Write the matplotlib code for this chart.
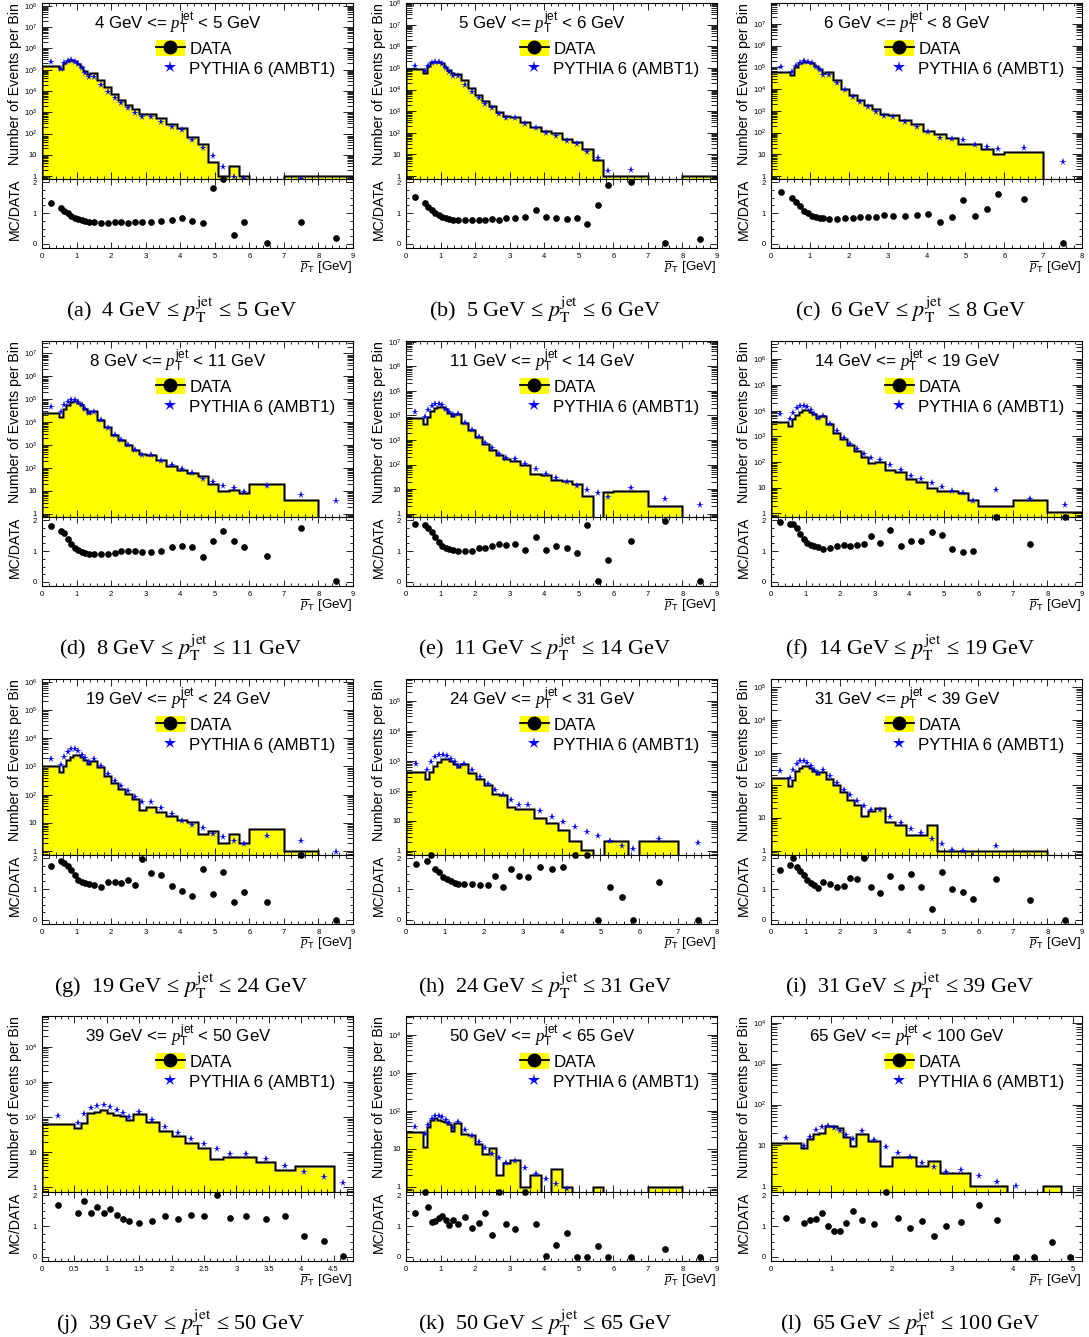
import numpy as np
import matplotlib
matplotlib.use('Agg')
import matplotlib.pyplot as plt
from matplotlib.lines import Line2D
from matplotlib.patches import Patch
from matplotlib.ticker import LogLocator, FuncFormatter, MultipleLocator, NullFormatter

plt.rcParams['font.family'] = ['Liberation Sans', 'DejaVu Sans']
plt.rcParams['mathtext.fontset'] = 'custom'
plt.rcParams['mathtext.rm'] = 'Liberation Sans'
plt.rcParams['mathtext.it'] = 'Liberation Serif:italic'
plt.rcParams['mathtext.bf'] = 'Liberation Sans:bold'

# common bin edges of mean track pT [GeV]
edges = [0, 0.5, 0.6, 0.7, 0.8, 0.9, 1.0, 1.1, 1.2, 1.3, 1.4, 1.6, 1.8, 2.0, 2.2, 2.4,
         2.6, 2.8, 3.0, 3.3, 3.6, 3.9, 4.2, 4.5, 4.8, 5.1, 5.4, 5.7, 6.0, 7.0, 8.0, 9.0]

# jet pT bins (panel titles)
jet_lo = [4, 5, 6, 8, 11, 14, 19, 24, 31, 39, 50, 65]
jet_hi = [5, 6, 8, 11, 14, 19, 24, 31, 39, 50, 65, 100]
letters = ['a', 'b', 'c', 'd', 'e', 'f', 'g', 'h', 'i', 'j', 'k', 'l']
x_max = [9, 9, 8, 9, 9, 9, 9, 8, 9, 4.8, 9, 5.15]
y_max = [1.35e8, 1e8, 9e7, 3.5e7, 1.07e7, 5.1e6, 1.24e6, 5.3e5, 1.8e5, 7.5e4, 3.1e4, 1.45e4]

data_a = [1.55e5, 1.05e5, 2.0e5, 2.6e5, 2.9e5, 2.6e5, 1.85e5, 1.3e5, 9.0e4, 6.3e4, 6.7e4, 3.2e4, 1.5e4,
          6.9e3, 3.7e3, 2.1e3, 1.35e3, 870, 810, 510, 295, 183, 69, 31, 4.6, 1, 3, 1, 0, 1, 1]
mc_a = [2.2e5, 1.07e5, 2.0e5, 2.6e5, 2.9e5, 2.4e5, 1.8e5, 1.15e5, 7.2e4, 4.5e4, 4.5e4, 1.9e4, 9.1e3,
        4.9e3, 2.6e3, 1.5e3, 940, 600, 570, 350, 205, 143, 48, 21, 8.8, 2.7, 0.95, 0.7, 0.02, 0.75, 0.2]
ratio_a = [1.34, 1.15, 1.07, 0.99, 0.9, 0.83, 0.8, 0.77, 0.74, 0.72, 0.70, 0.69, 0.69, 0.72, 0.72, 0.69,
           0.70, 0.70, 0.70, 0.74, 0.77, 0.85, 0.74, 0.67, 1.8, 2.5, 0.3, 0.70, 0.02, 0.72, 0.2]

data_b = [8.7e4, 6.0e4, 1.24e5, 1.8e5, 1.95e5, 1.95e5, 1.65e5, 1.15e5, 8.1e4, 5.6e4, 5.3e4, 2.8e4, 1.14e4,
          5.6e3, 2.9e3, 1.7e3, 940, 590, 550, 320, 190, 123, 93, 49, 38, 18.6, 5.3, 1, 1, 0, 1]
mc_b = [1.24e5, 7.2e4, 1.24e5, 1.65e5, 1.95e5, 1.8e5, 1.48e5, 9.6e4, 6.3e4, 4.0e4, 4.0e4, 1.6e4, 7.9e3,
        3.9e3, 2.1e3, 1.35e3, 730, 460, 460, 250, 175, 100, 72, 41, 30, 12.6, 6.7, 1.8, 2.0, 0.03, 0.17]
ratio_b = [1.52, 1.31, 1.2, 1.1, 0.99, 0.94, 0.88, 0.83, 0.8, 0.78, 0.76, 0.78, 0.78, 0.77, 0.79, 0.81,
           0.79, 0.83, 0.83, 0.86, 1.1, 0.86, 0.84, 0.82, 0.85, 0.65, 1.27, 1.91, 2.0, 0.03, 0.17]

data_c = [6.3e4, 4.3e4, 1.07e5, 1.5e5, 1.82e5, 1.82e5, 1.5e5, 1.15e5, 8.1e4, 5.6e4, 5.9e4, 2.6e4, 1.05e4,
          5.3e3, 3.1e3, 1.8e3, 1.15e3, 700, 630, 370, 240, 115, 89, 56, 31, 29, 18, 10.7, 13.2, 0]
mc_c = [1.07e5, 6.3e4, 1.15e5, 1.65e5, 1.95e5, 1.8e5, 1.5e5, 1.07e5, 7.1e4, 4.4e4, 4.4e4, 1.95e4, 8.9e3,
        4.5e3, 2.6e3, 1.5e3, 900, 590, 530, 310, 180, 107, 59, 48, 44, 26, 22, 18, 19.7, 4.4]
ratio_c = [1.68, 1.49, 1.36, 1.22, 1.07, 0.99, 0.91, 0.88, 0.85, 0.83, 0.81, 0.82, 0.84, 0.84, 0.87, 0.87,
           0.88, 0.94, 0.9, 0.9, 0.93, 0.98, 0.7, 0.86, 1.41, 0.9, 1.13, 1.61, 1.45, 0.02]

data_d = [2.6e4, 1.66e4, 3.6e4, 5.9e4, 7.5e4, 8.3e4, 7.1e4, 5.4e4, 3.8e4, 2.6e4, 3.0e4, 1.3e4, 6.0e3,
          2.9e3, 1.74e3, 1.05e3, 630, 410, 380, 220, 126, 85, 60, 43, 20.6, 10, 11, 8, 20, 4, 0]
mc_d = [4.5e4, 2.8e4, 5.4e4, 7.5e4, 9.2e4, 9.2e4, 7.5e4, 5.4e4, 3.8e4, 2.6e4, 2.8e4, 1.23e4, 5.6e3,
        2.9e3, 1.7e3, 980, 590, 380, 360, 210, 132, 91, 60, 34, 24.5, 17, 14, 8.9, 16, 6.8, 3.5]
ratio_d = [1.81, 1.66, 1.57, 1.39, 1.23, 1.1, 1.02, 0.97, 0.94, 0.9, 0.9, 0.9, 0.91, 0.93, 0.99, 0.99,
           1.01, 0.97, 0.97, 0.99, 1.12, 1.15, 1.12, 0.82, 1.32, 1.66, 1.32, 1.13, 0.85, 1.73, 0.02]

data_e = [8.1e3, 4.6e3, 8.9e3, 1.5e4, 1.95e4, 2.3e4, 2.3e4, 1.78e4, 1.3e4, 9.5e3, 1.1e4, 5.1e3, 2.6e3,
          1.3e3, 710, 390, 235, 170, 138, 100, 42, 39, 24.5, 21, 15.5, 5.1, 0, 7.4, 8.1, 2.1, 0]
mc_e = [1.4e4, 8.9e3, 1.66e4, 2.4e4, 3.0e4, 3.0e4, 2.6e4, 1.9e4, 1.37e4, 1.0e4, 1.1e4, 5.1e3, 2.5e3,
        1.35e3, 780, 480, 280, 190, 170, 107, 63, 42, 27, 19.6, 13.9, 9.6, 6.8, 4.9, 11.2, 4.1, 2.3]
ratio_e = [1.87, 1.85, 1.76, 1.63, 1.46, 1.3, 1.17, 1.09, 1.05, 1.03, 1.01, 1.01, 0.99, 1.09, 1.11, 1.17,
           1.22, 1.2, 1.22, 1.04, 1.46, 1.03, 1.15, 1.11, 0.95, 1.85, 0.02, 0.72, 1.31, 1.98, 0.02]

data_f = [3.7e3, 2.5e3, 4.6e3, 6.8e3, 9.1e3, 1.07e4, 1.07e4, 8.9e3, 7.2e3, 5.4e3, 6.2e3, 2.95e3, 1.38e3,
          760, 460, 270, 162, 94, 102, 48, 42, 22.4, 17, 9.4, 7.4, 7.4, 6.4, 3.2, 2.0, 3.2, 1.1]
mc_f = [7.2e3, 4.6e3, 8.3e3, 1.23e4, 1.5e4, 1.5e4, 1.38e4, 1.02e4, 7.6e3, 5.4e3, 6.2e3, 3.1e3, 1.6e3,
        890, 520, 330, 200, 138, 123, 79, 48, 29, 22, 14.8, 11, 7.6, 6.2, 3.0, 8.4, 3.8, 2.2]
ratio_f = [1.95, 1.87, 1.86, 1.76, 1.56, 1.4, 1.27, 1.2, 1.16, 1.13, 1.07, 1.09, 1.15, 1.18, 1.16, 1.2,
           1.23, 1.48, 1.26, 1.69, 1.16, 1.34, 1.32, 1.62, 1.51, 1.06, 0.98, 1.0, 2.5, 1.22, 2.5]

data_g = [1.07e3, 620, 1.07e3, 1.74e3, 2.1e3, 2.6e3, 2.6e3, 2.2e3, 1.66e3, 1.23e3, 1.5e3, 960, 450,
          260, 162, 105, 69, 27.5, 36, 24, 18, 12.7, 10.5, 4.0, 5.2, 2.0, 4.0, 2.0, 5.9, 1.0, 0]
mc_g = [1.85e3, 1.15e3, 2.2e3, 3.2e3, 4.0e3, 4.0e3, 3.5e3, 2.6e3, 2.0e3, 1.45e3, 1.85e3, 1.0e3, 540,
        310, 195, 130, 81, 53, 53, 33, 21, 12, 8.4, 6.4, 4.2, 3.2, 2.3, 1.8, 3.4, 2.2, 0.97]
ratio_g = [1.76, 1.89, 1.84, 1.73, 1.62, 1.44, 1.3, 1.22, 1.18, 1.17, 1.12, 1.06, 1.24, 1.22, 1.2, 1.28,
           1.14, 1.97, 1.51, 1.46, 1.1, 0.94, 0.76, 1.64, 0.83, 1.54, 0.57, 0.89, 0.57, 2.5, 0.0]

data_h = [430, 250, 430, 660, 910, 1.12e3, 1.12e3, 980, 800, 630, 760, 400, 250, 155, 81, 71, 30,
          25.5, 25.5, 12.4, 8.5, 5.0, 2.2, 1.07, 0, 2.2, 2.2, 0, 2.2, 0]
mc_h = [790, 490, 910, 1.35e3, 1.6e3, 1.6e3, 1.45e3, 1.18e3, 910, 670, 810, 480, 295, 175, 110, 75, 51,
        35, 35, 22, 13.4, 9.1, 6.2, 4.2, 3.2, 2.2, 1.5, 1.17, 2.5, 1.9]
ratio_h = [1.82, 1.92, 2.2, 1.65, 1.54, 1.38, 1.32, 1.26, 1.21, 1.17, 1.17, 1.17, 1.12, 1.12, 1.41, 1.08,
           1.65, 1.41, 1.38, 1.72, 1.64, 1.7, 2.5, 2.5, 0, 1.06, 0.74, 0, 1.22, 0]

data_i = [170, 94, 150, 270, 330, 390, 390, 330, 270, 225, 260, 158, 105, 63, 36, 25.5, 11.7, 16, 20,
          7.4, 6.2, 3.0, 3.0, 6.2, 1, 1, 1, 1, 1, 1, 0]
mc_i = [280, 170, 300, 455, 550, 550, 490, 390, 300, 240, 300, 195, 115, 74, 50, 34, 23, 17, 17, 10.7,
        6.9, 4.7, 3.4, 2.2, 1.6, 1.05, 0.95, 0.68, 1.4, 0.63, 0]
ratio_i = [1.62, 1.78, 1.99, 1.7, 1.59, 1.44, 1.3, 1.19, 1.14, 1.03, 1.22, 1.17, 1.06, 1.11, 1.37, 1.31,
           2.0, 1.06, 0.86, 1.43, 1.06, 1.5, 1.06, 0.36, 1.55, 1.01, 0.92, 0.68, 1.33, 0.63, 0]

data_j = [65, 49, 67, 130, 135, 155, 130, 117, 110, 80, 122, 70, 41, 29.5, 18, 13.5, 6.3, 7.2, 7.2,
          5.2, 3.0, 4.1, 4.1, 0]
mc_j = [110, 67, 122, 178, 210, 220, 195, 162, 130, 100, 135, 80, 51, 35, 24, 17.3, 12.2, 9, 9, 6.3,
        4.1, 2.7, 2.0, 1.35]
ratio_j = [1.68, 1.42, 1.82, 1.41, 1.6, 1.41, 1.54, 1.36, 1.22, 1.17, 1.09, 1.17, 1.33, 1.22, 1.37,
           1.32, 2.0, 1.26, 1.31, 1.22, 1.33, 0.67, 0.51, 0.02]

data_k = [27.5, 11, 37, 57, 63, 57, 53, 50, 44, 29, 47, 24, 23, 13.5, 7.1, 10.2, 2.0, 4.3, 5.2, 1, 2.0,
          0, 3.0, 1, 0, 0, 1, 0, 0, 1, 0]
mc_k = [38, 25, 42, 62, 72, 72, 68, 56, 47, 36, 50, 32, 21.5, 15, 10.2, 7.4, 5.6, 4.3, 4.7, 3.1, 2.2,
        1.6, 1.15, 0.85, 0.3, 0.3, 0.34, 0.3, 0.3, 0.27, 0.3]
ratio_k = [1.42, 2.5, 1.6, 1.14, 1.15, 1.25, 1.31, 1.2, 1.04, 1.19, 1.07, 1.29, 0.93, 1.09, 1.41, 0.72,
           2.5, 1.05, 0.91, 2.5, 1.05, 0.02, 0.38, 0.79, 0, 0, 0.34, 0, 0, 0.27, 0]

data_l = [11.8, 8.5, 14.2, 19, 20, 30, 30, 26.5, 15.7, 9.5, 19, 12.8, 3.1, 5.3, 5.3, 3.1, 4.2, 2.1, 2.1,
          1, 1, 0, 0, 1, 0]
mc_l = [14.8, 9.5, 16.5, 23.6, 29, 30, 26.5, 22.8, 18.2, 14.2, 22.8, 13.5, 9.3, 6.7, 5.1, 3.7, 2.9, 2.2,
        2.45, 1.82, 1.3, 1.0, 0.3, 0.3, 0.3]
ratio_l = [1.26, 1.1, 1.19, 1.22, 1.41, 0.99, 0.85, 0.83, 1.11, 1.49, 1.19, 1.05, 2.5, 1.26, 0.94, 1.17,
           0.67, 1.01, 1.14, 1.68, 1.19, 0, 0, 0.48, 0]

all_data = [data_a, data_b, data_c, data_d, data_e, data_f, data_g, data_h, data_i, data_j, data_k, data_l]
all_mc = [mc_a, mc_b, mc_c, mc_d, mc_e, mc_f, mc_g, mc_h, mc_i, mc_j, mc_k, mc_l]
all_ratio = [ratio_a, ratio_b, ratio_c, ratio_d, ratio_e, ratio_f, ratio_g, ratio_h, ratio_i, ratio_j,
             ratio_k, ratio_l]

W, H = 1089, 1337
fig = plt.figure(figsize=(W / 100, H / 100), dpi=100)

col_left = [42, 406, 771]
row_top = [3, 341, 679, 1016]
pw, up_h, lo_h = 311, 176, 69
y_lo = 0.73
r_top = 2.1


def box(x, y, w, h):
    return [x / W, 1 - (y + h) / H, w / W, h / H]


def log_label(v, pos):
    if v < 0.99:
        return ''
    e = int(round(np.log10(v)))
    if e == 0:
        return '1'
    if e == 1:
        return '10'
    return r'$10^{%d}$' % e


def style(ax):
    ax.tick_params(which='both', direction='in', top=True, right=True, labelsize=5.5, width=0.6)
    ax.tick_params(which='major', length=5)
    ax.tick_params(which='minor', length=2.5)
    for s in ax.spines.values():
        s.set_linewidth(0.8)


for i in range(12):
    r, c = divmod(i, 3)
    x0, y0 = col_left[c], row_top[r]
    data = np.array(all_data[i], dtype=float)
    mc = np.array(all_mc[i], dtype=float)
    ratio = np.array(all_ratio[i], dtype=float)
    ed = np.array(edges[:len(data) + 1])
    centers = 0.5 * (ed[:-1] + ed[1:])
    step = 0.5 if x_max[i] < 5 else 1.0
    minor = step / 5

    ax = fig.add_axes(box(x0, y0, pw, up_h))
    ax.set_yscale('log')
    vals = np.where(data > 0, data, 1e-3)
    ax.stairs(vals, ed, baseline=1e-3, fill=True, color='#ffff00', lw=0)
    ax.stairs(vals, ed, baseline=1e-3, color='#6e6e6e', lw=1.8)
    ax.stairs(vals, ed, baseline=1e-3, color='black', lw=1.0)
    ax.plot(centers, mc, ls='none', marker='*', color='#0000ff', ms=5.5, mew=0)
    ax.set_xlim(0, x_max[i])
    ax.set_ylim(y_lo, y_max[i])
    ax.xaxis.set_major_locator(MultipleLocator(step))
    ax.xaxis.set_minor_locator(MultipleLocator(minor))
    ax.yaxis.set_major_locator(LogLocator(base=10, numticks=20))
    ax.yaxis.set_minor_locator(LogLocator(base=10, subs=np.arange(2, 10), numticks=200))
    ax.yaxis.set_major_formatter(FuncFormatter(log_label))
    ax.yaxis.set_minor_formatter(NullFormatter())
    ax.tick_params(labelbottom=False)
    style(ax)
    ax.tick_params(axis='y', which='major', length=7)
    ax.tick_params(axis='y', which='minor', length=4)

    ax.text(0.437, 0.885, r'%d GeV <= $p_{\mathrm{T}}^{\mathrm{jet}}$ < %d GeV' % (jet_lo[i], jet_hi[i]),
            transform=ax.transAxes, ha='center', va='center', fontsize=12.2)
    h_data = (Patch(facecolor='#ffff00', edgecolor='none'),
              Line2D([], [], color='black', lw=1.3, marker='o', ms=9))
    h_mc = Line2D([], [], ls='none', marker='*', color='#0000ff', ms=9, mew=0)
    ax.legend([h_data, h_mc], ['DATA', 'PYTHIA 6 (AMBT1)'], loc='upper left',
              bbox_to_anchor=(0.327, 0.855), frameon=False, fontsize=12.2, handlelength=1.75,
              handleheight=1.0, handletextpad=0.25, labelspacing=0.2, borderpad=0.2)
    ax.text(-0.087, 1.0, 'Number of Events per Bin', transform=ax.transAxes, rotation=90,
            ha='center', va='top', fontsize=10.2)

    axr = fig.add_axes(box(x0, y0 + up_h, pw, lo_h))
    axr.plot(centers, np.minimum(ratio, r_top), ls='none', marker='o', color='black', ms=3.8,
             clip_on=False, zorder=5)
    axr.set_xlim(0, x_max[i])
    axr.set_ylim(-0.13, r_top)
    axr.set_yticks([0, 1, 2])
    axr.yaxis.set_minor_locator(MultipleLocator(0.25))
    axr.xaxis.set_major_locator(MultipleLocator(step))
    axr.xaxis.set_minor_locator(MultipleLocator(minor))
    axr.xaxis.set_major_formatter(FuncFormatter(lambda v, p: '%g' % v))
    style(axr)
    axr.tick_params(axis='x', which='major', length=4)
    axr.text(-0.087, 1.0, 'MC/DATA', transform=axr.transAxes, rotation=90,
             ha='center', va='top', fontsize=10.2)
    axr.text(1.0, -0.17, r'$\overline{p}_{\mathrm{T}}$ [GeV]', transform=axr.transAxes,
             ha='right', va='top', fontsize=9.6)

    cap = '(%s)  %d GeV ≤ $p_{\\mathrm{T}}^{\\mathrm{jet}}$ ≤ %d GeV' % (letters[i], jet_lo[i], jet_hi[i])
    fig.text((x0 + 139) / W, 1 - (y0 + 307) / H, cap, ha='center', va='center',
             fontsize=16, family='Liberation Serif', math_fontfamily='stix')

fig.savefig('out.png', dpi=100)
